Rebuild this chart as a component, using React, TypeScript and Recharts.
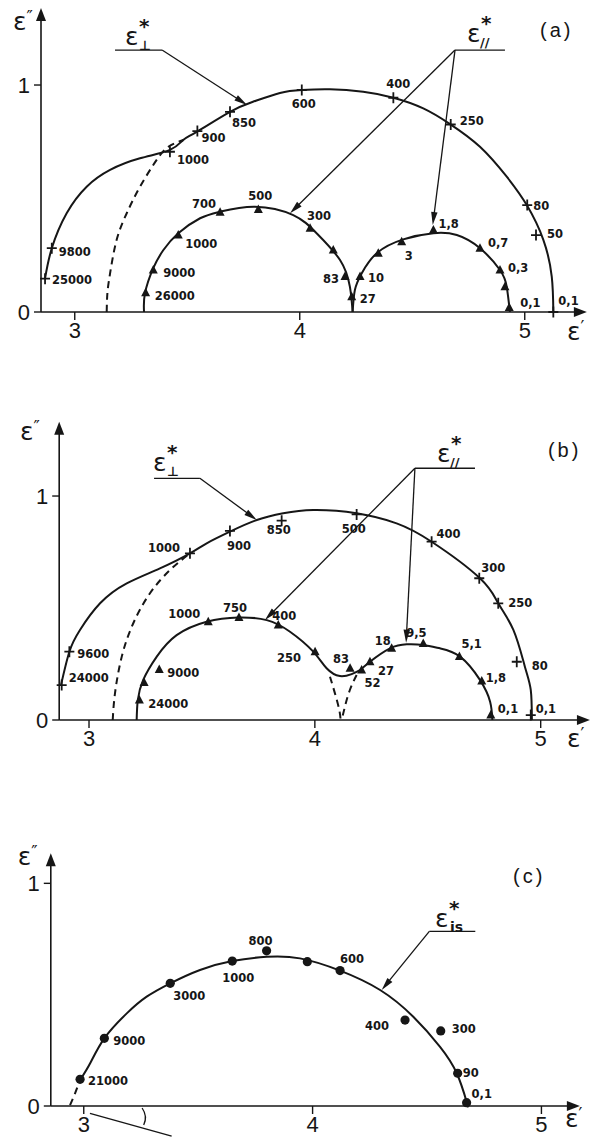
import React from 'react';
import { ComposedChart, Line, Scatter, XAxis, YAxis, ReferenceLine, ReferenceDot } from 'recharts';

type Pt = [number, number];
type Mk = [number, number, string];

// ---------- panel (a) ----------
const aPerpCurve: Pt[] = [
  [2.868, 0.148], [2.898, 0.281], [2.964, 0.435], [3.053, 0.552], [3.157, 0.626], [3.29, 0.677],
  [3.423, 0.714], [3.482, 0.758], [3.542, 0.794], [3.69, 0.882], [3.792, 0.926], [3.912, 0.965],
  [4.009, 0.978], [4.134, 0.981], [4.282, 0.97], [4.416, 0.944], [4.549, 0.897], [4.668, 0.828],
  [4.801, 0.728], [4.92, 0.596], [5.009, 0.471], [5.083, 0.317], [5.12, 0.156], [5.127, 0],
];
const aPerpDash: Pt[] = [
  [3.142, 0], [3.145, 0.082], [3.157, 0.17], [3.186, 0.317], [3.231, 0.435], [3.29, 0.552],
  [3.364, 0.67], [3.416, 0.728], [3.482, 0.758],
];
const aParLow: Pt[] = [
  [3.308, 0], [3.312, 0.082], [3.349, 0.193], [3.394, 0.273], [3.46, 0.347], [3.557, 0.413],
  [3.646, 0.442], [3.801, 0.464], [3.971, 0.427], [4.075, 0.347], [4.179, 0.229], [4.223, 0.111], [4.235, 0],
];
const aParHigh: Pt[] = [
  [4.235, 0], [4.245, 0.097], [4.275, 0.17], [4.342, 0.259], [4.46, 0.32], [4.594, 0.347],
  [4.698, 0.339], [4.801, 0.281], [4.89, 0.185], [4.92, 0.111], [4.934, 0],
];
const aPerpPts: Mk[] = [
  [2.868, 0.147, '25000'], [2.898, 0.281, '9800'], [3.423, 0.706, '1000'], [3.545, 0.797, '900'],
  [3.69, 0.882, '850'], [4.009, 0.978, '600'], [4.416, 0.944, '400'], [4.671, 0.826, '250'],
  [5.011, 0.471, '80'], [5.05, 0.339, '50'], [5.127, 0, '0,1'],
];
const aParPts: Mk[] = [
  [3.315, 0.085, '26000'], [3.349, 0.185, '9000'], [3.46, 0.339, '1000'], [3.646, 0.439, '700'],
  [3.816, 0.452, '500'], [4.046, 0.369, '300'], [4.149, 0.273, ''], [4.201, 0.156, '83'],
  [4.231, 0.067, '27'], [4.268, 0.156, '10'], [4.349, 0.259, ''], [4.453, 0.31, '3'],
  [4.594, 0.361, '1,8'], [4.801, 0.281, '0,7'], [4.89, 0.185, '0,3'], [4.912, 0.111, ''], [4.931, 0.02, '0,1'],
];

// ---------- panel (b) ----------
const bPerpCurve: Pt[] = [
  [2.876, 0.156], [2.913, 0.305], [2.96, 0.402], [3.049, 0.521], [3.167, 0.61], [3.314, 0.677],
  [3.447, 0.744], [3.521, 0.789], [3.624, 0.841], [3.743, 0.893], [3.86, 0.923], [3.993, 0.9375],
  [4.185, 0.923], [4.362, 0.878], [4.517, 0.796], [4.731, 0.633], [4.812, 0.521], [4.879, 0.402],
  [4.93, 0.238], [4.956, 0.134], [4.961, 0],
];
const bPerpDash: Pt[] = [
  [3.105, 0], [3.115, 0.119], [3.145, 0.283], [3.196, 0.432], [3.27, 0.566], [3.359, 0.67], [3.447, 0.744],
];
const bParCurve: Pt[] = [
  [3.211, 0], [3.216, 0.089], [3.24, 0.179], [3.3, 0.283], [3.388, 0.379], [3.521, 0.439],
  [3.661, 0.458], [3.787, 0.446], [3.89, 0.394], [3.993, 0.305], [4.052, 0.231], [4.111, 0.196],
  [4.163, 0.205], [4.2, 0.223], [4.244, 0.26], [4.333, 0.32], [4.407, 0.338], [4.48, 0.335],
  [4.554, 0.32], [4.643, 0.283], [4.731, 0.179], [4.776, 0.082], [4.786, 0],
];
const bParDashL: Pt[] = [[4.067, 0.193], [4.089, 0.119], [4.108, 0.045], [4.114, 0]];
const bParDashR: Pt[] = [[4.185, 0.201], [4.155, 0.134], [4.133, 0.059], [4.119, 0]];
const bPerpPts: Mk[] = [
  [2.879, 0.156, '24000'], [2.913, 0.305, '9600'], [3.447, 0.744, '1000'], [3.624, 0.844, '900'],
  [3.853, 0.89, '850'], [4.185, 0.918, '500'], [4.517, 0.796, '400'], [4.728, 0.633, '300'],
  [4.812, 0.521, '250'], [4.894, 0.26, '80'], [4.956, 0.022, '0,1'],
];
const bParPts: Mk[] = [
  [3.223, 0.089, '24000'], [3.244, 0.167, ''], [3.311, 0.226, '9000'], [3.528, 0.439, '1000'],
  [3.664, 0.458, '750'], [3.838, 0.424, '400'], [4.001, 0.305, '250'], [4.156, 0.231, '83'],
  [4.207, 0.223, '52'], [4.244, 0.26, '27'], [4.34, 0.32, '18'], [4.48, 0.342, '9,5'],
  [4.64, 0.283, '5,1'], [4.739, 0.174, '1,8'], [4.779, 0.022, '0,1'],
];

// ---------- panel (c) ----------
const cCurve: Pt[] = [
  [2.984, 0.117], [3.028, 0.192], [3.09, 0.304], [3.188, 0.416], [3.275, 0.491], [3.378, 0.551],
  [3.508, 0.611], [3.649, 0.651], [3.799, 0.67], [3.945, 0.663], [4.12, 0.608], [4.295, 0.521],
  [4.44, 0.401], [4.557, 0.266], [4.63, 0.147], [4.673, 0.019], [4.677, 0],
];
const cDash: Pt[] = [[2.94, 0.004], [2.962, 0.057], [2.984, 0.117]];
const cPts: Mk[] = [
  [2.984, 0.12, '21000'], [3.09, 0.304, '9000'], [3.378, 0.551, '3000'], [3.649, 0.651, '1000'],
  [3.799, 0.697, '800'], [3.977, 0.648, ''], [4.12, 0.608, '600'], [4.404, 0.386, '400'],
  [4.56, 0.337, '300'], [4.634, 0.147, '90'], [4.673, 0.015, '0,1'],
];

const xTicks = [3, 4, 5];
const yTicks = [0, 1];

// label offsets (px from marker centre to text start / baseline)
const aPerpOff: Record<string, Pt> = {
  '25000': [7, 5], '9800': [7, 8], '1000': [7, 12], '900': [4, 11], '850': [2, 15], '600': [-10, 18],
  '400': [-7, -10], '250': [9, 0], '80': [6, 5], '50': [11, 3], '0,1': [5, -7],
};
const aParOff: Record<string, Pt> = {
  '26000': [9, 7], '9000': [10, 7], '1000': [7, 13], '700': [-28, -4], '500': [-10, -9], '300': [-3, -8],
  '83': [-22, 6], '27': [8, 6], '10': [8, 5], '3': [3, 18], '1,8': [5, -2], '0,7': [8, -1], '0,3': [8, 2], '0,1': [11, 0],
};
const bPerpOff: Record<string, Pt> = {
  '24000': [7, -3], '9600': [8, 6], '1000': [-42, -1], '900': [-3, 19], '850': [-15, 13], '500': [-15, 19],
  '400': [5, -4], '300': [2, -6], '250': [10, 4], '80': [15, 8], '0,1': [5, -2],
};
const bParOff: Record<string, Pt> = {
  '24000': [9, 8], '9000': [8, 8], '1000': [-40, -4], '750': [-16, -5], '400': [-6, -5], '250': [-38, 10],
  '83': [-17, -5], '52': [3, 17], '27': [8, 13], '18': [-17, -3], '9,5': [-17, -6], '5,1': [2, -9], '1,8': [4, 1], '0,1': [7, -2],
};
const cOff: Record<string, Pt> = {
  '21000': [8, 6], '9000': [9, 7], '3000': [3, 17], '1000': [-10, 21], '800': [-18, -6], '600': [0, -8],
  '400': [-40, 10], '300': [11, 2], '90': [5, 4], '0,1': [5, -5],
};

const INK = '#161616';
const NUM_FONT = 'Liberation Sans';
const LBL_FONT = 'DejaVu Sans';

const xy = (a: Pt[]) => a.map(([x, y]) => ({ x, y }));

const marker = (kind: 'cross' | 'tri' | 'dot', offs: Record<string, Pt>) => (p: any) => {
  const { cx, cy } = p;
  const label: string = p.payload?.label ?? '';
  const o = offs[label] || [7, 4];
  let m;
  if (kind === 'cross') m = <path d={`M${cx - 5},${cy}H${cx + 5}M${cx},${cy - 5.5}V${cy + 5.5}`} stroke={INK} strokeWidth={1.8} />;
  else if (kind === 'tri') m = <path d={`M${cx},${cy - 5}L${cx + 4.5},${cy + 3.5}L${cx - 4.5},${cy + 3.5}Z`} fill={INK} />;
  else m = <circle cx={cx} cy={cy} r={4.6} fill={INK} />;
  return (
    <g>
      {m}
      {label && (
        <text x={cx + o[0]} y={cy + o[1]} fontFamily={LBL_FONT} fontSize={11.5} fontWeight={700} fill={INK}>{label}</text>
      )}
    </g>
  );
};

const arrowShape = (len: number, half: number) => (p: any) => {
  const { x1, y1, x2, y2 } = p;
  const a = Math.atan2(y2 - y1, x2 - x1);
  const c = Math.cos(a), s = Math.sin(a);
  const bx = x2 - len * c, by = y2 - len * s;
  return (
    <g>
      <line x1={x1} y1={y1} x2={bx + 2 * c} y2={by + 2 * s} stroke={INK} strokeWidth={p.strokeWidth} />
      <polygon points={`${x2},${y2} ${bx - half * s},${by + half * c} ${bx + half * s},${by - half * c}`} fill={INK} />
    </g>
  );
};

const arcShape = (p: any) => {
  const { x1, y1, x2, y2 } = p;
  return <path d={`M${x1},${y1}Q${(x1 + x2) / 2 + 5},${(y1 + y2) / 2} ${x2},${y2}`} fill="none" stroke={INK} strokeWidth={1.3} />;
};

const curve = (k: string, a: Pt[], dashed = false) => (
  <Line key={k} data={xy(a)} dataKey="y" type="natural" stroke={INK} strokeWidth={2}
    strokeDasharray={dashed ? '7 5' : undefined} dot={false} activeDot={false} isAnimationActive={false} legendType="none" />
);

const marks = (k: string, a: Mk[], kind: 'cross' | 'tri' | 'dot', offs: Record<string, Pt>) => (
  <Scatter key={k} data={a.map(([x, y, label]) => ({ x, y, label }))} dataKey="y" shape={marker(kind, offs)}
    isAnimationActive={false} legendType="none" />
);

const seg = (k: string, p: Pt, q: Pt, head?: 'lead' | 'axis' | 'arc') => (
  <ReferenceLine key={k} segment={[{ x: p[0], y: p[1] }, { x: q[0], y: q[1] }]} ifOverflow="visible"
    stroke={INK} strokeWidth={head === 'axis' ? 1.6 : 1.3}
    shape={head === 'lead' ? arrowShape(13, 3.2) : head === 'axis' ? arrowShape(13, 5) : head === 'arc' ? arcShape : undefined} />
);

const note = (k: string, at: Pt, draw: (x: number, y: number) => React.ReactNode) => (
  <ReferenceDot key={k} x={at[0]} y={at[1]} r={0} ifOverflow="visible" fill="none" stroke="none"
    shape={(p: any) => <g>{draw(p.cx, p.cy)}</g>} />
);

const eps = (sub: string, subSize: number, subDx: number) => (x: number, y: number) => (
  <g fill={INK} fontFamily={LBL_FONT}>
    <text x={x} y={y} fontSize={25}>ε</text>
    <text x={x + subDx} y={y + 5} fontSize={subSize} fontWeight={700}>{sub}</text>
    <text x={x + 14} y={y - 12} fontSize={20} fontWeight={700}>*</text>
  </g>
);
const yName = (x: number, y: number) => (
  <text x={x} y={y} fill={INK} fontFamily={LBL_FONT} fontSize={25}>ε<tspan fontSize={17} dy={-7}>″</tspan></text>
);
const xName = (x: number, y: number) => (
  <text x={x} y={y} fill={INK} fontFamily={LBL_FONT} fontSize={25}>ε<tspan fontSize={17} dy={-7}>′</tspan></text>
);
const tag = (t: string) => (x: number, y: number) => (
  <text x={x} y={y} fill={INK} fontFamily={NUM_FONT} fontSize={20} letterSpacing={3}>{t}</text>
);

type Frame = {
  height: number;
  margin: { top: number; right: number; bottom: number; left: number };
  xDomain: Pt;
  yDomain: Pt;
  yWidth: number;
};

const Panel = ({ f, children }: { f: Frame; children: React.ReactNode[] }) => (
  <ComposedChart width={597} height={f.height} margin={f.margin}>
    <XAxis type="number" dataKey="x" domain={f.xDomain} ticks={xTicks} interval={0} axisLine={false}
      tickLine={{ stroke: INK, strokeWidth: 1.4 }} tickSize={8} tickMargin={2} height={30}
      tick={{ fill: INK, fontSize: 22, fontFamily: NUM_FONT }} />
    <YAxis type="number" dataKey="y" domain={f.yDomain} ticks={yTicks} interval={0} axisLine={false}
      tickLine={{ stroke: INK, strokeWidth: 1.4 }} tickSize={7} tickMargin={4} width={f.yWidth}
      tick={{ fill: INK, fontSize: 22, fontFamily: NUM_FONT }} />
    {children}
  </ComposedChart>
);

const frameA: Frame = { height: 345, margin: { top: 3.3, right: 4.75, bottom: 3, left: 0 }, xDomain: [2.85, 5.3], yDomain: [0, 1.36], yWidth: 41 };
const frameB: Frame = { height: 360, margin: { top: 15.4, right: 2.1, bottom: 10, left: 0 }, xDomain: [2.868, 5.24], yDomain: [0, 1.36], yWidth: 59.2 };
const frameC: Frame = { height: 347, margin: { top: 38.8, right: 9.8, bottom: 11, left: 0 }, xDomain: [2.856, 5.2], yDomain: [0, 1.2], yWidth: 50.8 };

export default function App() {
  return (
    <div style={{ position: 'absolute', left: 0, top: 0, width: 597, height: 1147, background: '#fff' }}>
      <div style={{ position: 'absolute', left: 0, top: 0 }}>
        <Panel f={frameA}>{[
          seg('ax', [2.85, 0], [5.276, 0], 'axis'),
          seg('ay', [2.85, 0], [2.85, 1.339], 'axis'),
          curve('c1', aPerpCurve),
          curve('c2', aPerpDash, true),
          curve('c3', aParLow),
          curve('c4', aParHigh),
          marks('m1', aPerpPts, 'cross', aPerpOff),
          marks('m2', aParPts, 'tri', aParOff),
          seg('l1', [3.179, 1.154], [3.388, 1.154]),
          seg('l2', [3.388, 1.154], [3.766, 0.912], 'lead'),
          seg('l3', [4.69, 1.154], [4.912, 1.154]),
          seg('l4', [4.69, 1.154], [3.957, 0.435], 'lead'),
          seg('l5', [4.69, 1.154], [4.591, 0.383], 'lead'),
          note('n1', [3.223, 1.176], eps('⊥', 13, 14)),
          note('n2', [4.743, 1.189], eps('//', 13, 13)),
          note('n3', [5.068, 1.211], tag('(a)')),
          note('n4', [2.726, 1.242], yName),
          note('n5', [5.188, -0.123], xName),
        ]}</Panel>
      </div>
      <div style={{ position: 'absolute', left: 0, top: 400 }}>
        <Panel f={frameB}>{[
          seg('ax', [2.868, 0], [5.218, 0], 'axis'),
          seg('ay', [2.868, 0], [2.868, 1.332], 'axis'),
          curve('c1', bPerpCurve),
          curve('c2', bPerpDash, true),
          curve('c3', bParCurve),
          curve('c4', bParDashL, true),
          curve('c5', bParDashR, true),
          marks('m1', bPerpPts, 'cross', bPerpOff),
          marks('m2', bParPts, 'tri', bParOff),
          seg('l1', [3.288, 1.079], [3.491, 1.079]),
          seg('l2', [3.491, 1.079], [3.743, 0.893], 'lead'),
          seg('l3', [4.443, 1.124], [4.709, 1.124]),
          seg('l4', [4.443, 1.124], [3.779, 0.446], 'lead'),
          seg('l5', [4.443, 1.124], [4.404, 0.345], 'lead'),
          note('n1', [3.283, 1.112], eps('⊥', 13, 14)),
          note('n2', [4.541, 1.152], eps('//', 13, 13)),
          note('n3', [5.032, 1.174], tag('(b)')),
          note('n4', [2.694, 1.25], yName),
          note('n5', [5.116, -0.121], xName),
        ]}</Panel>
      </div>
      <div style={{ position: 'absolute', left: 0, top: 800 }}>
        <Panel f={frameC}>{[
          seg('ax', [2.856, 0], [5.168, 0], 'axis'),
          seg('ay', [2.856, 0], [2.856, 1.135], 'axis'),
          curve('c1', cCurve),
          curve('c2', cDash, true),
          marks('m1', cPts, 'dot', cOff),
          seg('l1', [4.51, 0.784], [4.711, 0.784]),
          seg('l2', [4.51, 0.784], [4.302, 0.521], 'lead'),
          seg('g1', [3.027, -0.033], [3.384, -0.135]),
          seg('g2', [3.255, -0.009], [3.262, -0.085], 'arc'),
          note('n1', [4.535, 0.804], eps('is', 14, 15)),
          note('n3', [4.876, 1.001], tag('(c)')),
          note('n4', [2.712, 1.082], yName),
          note('n5', [5.103, -0.094], xName),
        ]}</Panel>
      </div>
    </div>
  );
}
